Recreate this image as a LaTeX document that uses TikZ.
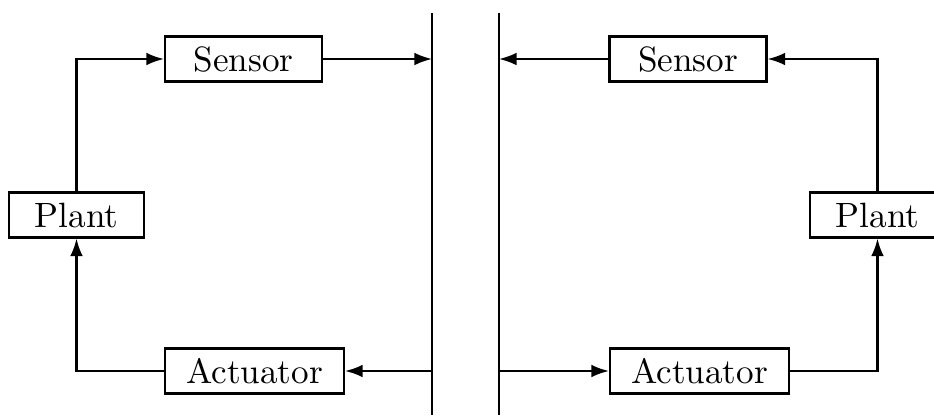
\documentclass[tikz,border=0pt]{standalone}
\usepackage{amsmath}
\usepackage{fontspec}
\usepackage{tikz}
\usetikzlibrary{calc,arrows.meta}

\begin{document}
\begin{tikzpicture}[line width=0.6pt, >={Latex[length=5pt,width=3.6pt]},
        block/.style={draw, rectangle, minimum height=0.45cm, inner sep=0pt,
            font=\addfontfeatures{LetterSpace=5}}]
            \useasboundingbox (0,0) rectangle (9.34,4.15);

            \node[block, minimum width=1.57cm] (sensorL) at (2.435,3.56) {Sensor};
            \node[block, minimum width=1.35cm] (plantL) at (0.765,2.00) {Plant};
            \node[block, minimum width=1.79cm] (actL) at (2.545,0.44) {Actuator};
            \coordinate (topL) at (4.32,4.02);
            \coordinate (botL) at (4.32,0);
            \coordinate (inL) at (4.32,3.56);
            \coordinate (outL) at (4.32,0.44);
            \draw (topL) -- (botL);
            \draw[->] (plantL) |- (sensorL);
            \draw[->] (sensorL) -- (inL);
            \draw[->] (outL) -- (actL);
            \draw[->] (actL) -| (plantL);

            \node[block, minimum width=1.57cm] (sensorR) at (6.88,3.56) {Sensor};
            \node[block, minimum width=1.35cm] (plantR) at (8.775,2.00) {Plant};
            \node[block, minimum width=1.79cm] (actR) at (6.995,0.44) {Actuator};
            \coordinate (topR) at (4.99,4.02);
            \coordinate (botR) at (4.99,0);
            \coordinate (inR) at (4.99,3.56);
            \coordinate (outR) at (4.99,0.44);
            \draw (topR) -- (botR);
            \draw[->] (plantR) |- (sensorR);
            \draw[->] (sensorR) -- (inR);
            \draw[->] (outR) -- (actR);
            \draw[->] (actR) -| (plantR);
        \end{tikzpicture}
\end{document}
